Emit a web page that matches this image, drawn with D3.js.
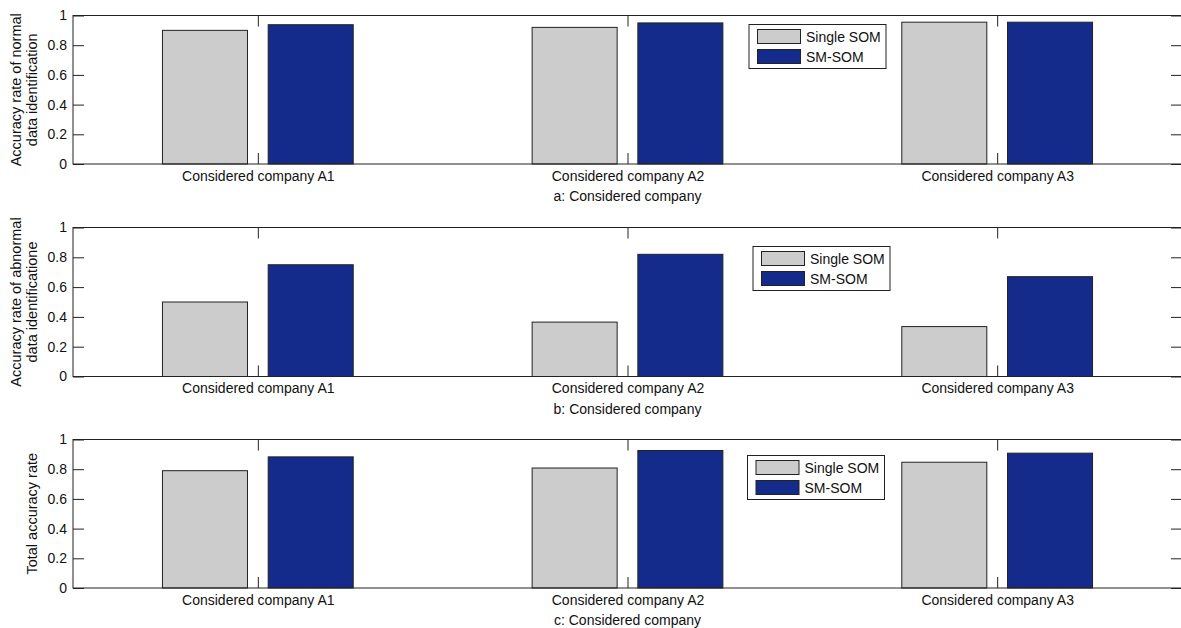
<html>
<script src='https://d3js.org/d3.v7.min.js'></script>
<style>
body {margin:0; background:white;}
text {font-family: "Liberation Sans", Arial, sans-serif; fill:#111;}
</style>
<body>
<svg id="chart" width=1181 height=628></svg>
<script>
// values
var categories = ["Considered company A1", "Considered company A2", "Considered company A3"];
var seriesNames = ["Single SOM", "SM-SOM"];
var singleNormal = [0.90, 0.92, 0.955];
var smNormal = [0.938, 0.95, 0.955];
var singleAbnormal = [0.50, 0.365, 0.335];
var smAbnormal = [0.75, 0.82, 0.67];
var singleTotal = [0.79, 0.808, 0.847];
var smTotal = [0.883, 0.926, 0.908];
var yTicks = [0, 0.2, 0.4, 0.6, 0.8, 1];
var yLabels = [["Accuracy rate of normal", "data identification"],
               ["Accuracy rate of abnormal", "data identificatione"],
               ["Total accuracy rate"]];
var xTitles = ["a: Considered company", "b: Considered company", "c: Considered company"];

var colors = ["#cccccc", "#152b8b"];

var panels = [
  {top: 15.5, bottom: 164, single: singleNormal, sm: smNormal, legend: [749, 24.5]},
  {top: 227.5, bottom: 376.5, single: singleAbnormal, sm: smAbnormal, legend: [753, 246.5]},
  {top: 439.5, bottom: 588, single: singleTotal, sm: smTotal, legend: [747.5, 455.5]}
];

var svg = d3.select("#chart");
var left = 73, right = 1182;
var x = d3.scaleLinear().domain([0.5, 3.5]).range([left, right]);
var barW = 0.23, offs = [-0.143, 0.143];

panels.forEach(function(p, pi) {
  var y = d3.scaleLinear().domain([0, 1]).range([p.bottom, p.top]);
  var g = svg.append("g");

  // bars
  [p.single, p.sm].forEach(function(vals, si) {
    g.selectAll(".bar" + si)
      .data(vals)
      .enter()
      .append("rect")
      .attr("x", function(d, i) { return x(i + 1 + offs[si] - barW / 2); })
      .attr("y", function(d) { return y(d); })
      .attr("width", x(barW) - x(0))
      .attr("height", function(d) { return y(0) - y(d); })
      .style("fill", colors[si])
      .style("stroke", "#222")
      .style("stroke-width", 1);
  });

  // box
  g.append("rect")
    .attr("x", left).attr("y", p.top)
    .attr("width", right - left).attr("height", p.bottom - p.top)
    .style("fill", "none").style("stroke", "#222");

  var yl = d3.axisLeft(y).tickValues(yTicks).tickFormat(d3.format("~g")).tickSizeInner(-11).tickSizeOuter(0).tickPadding(6);
  var ya = g.append("g").attr("transform", "translate(" + left + ",0)").call(yl);
  var yr = g.append("g").attr("transform", "translate(" + right + ",0)")
    .call(d3.axisRight(y).tickValues(yTicks).tickSizeInner(-11).tickSizeOuter(0).tickFormat(""));

  var xb = g.append("g").attr("transform", "translate(0," + p.bottom + ")")
    .call(d3.axisBottom(x).tickValues([1, 2, 3]).tickSizeInner(-11).tickSizeOuter(0).tickPadding(7)
      .tickFormat(function(d) { return categories[d - 1]; }));
  var xt = g.append("g").attr("transform", "translate(0," + p.top + ")")
    .call(d3.axisTop(x).tickValues([1, 2, 3]).tickSizeInner(-11).tickSizeOuter(0).tickFormat(""));

  [ya, yr, xb, xt].forEach(function(a) {
    a.select(".domain").remove();
    a.selectAll("line").style("stroke", "#222");
    a.selectAll("text").style("font-size", "14px").style("fill", "#111")
      .style("font-family", '"Liberation Sans", Arial, sans-serif');
  });

  // x title
  g.append("text")
    .attr("x", x(2)).attr("y", p.bottom + 37)
    .attr("text-anchor", "middle")
    .style("font-size", "14px")
    .text(xTitles[pi]);

  // y label
  var lines = yLabels[pi];
  var cy = (p.top + p.bottom) / 2;
  var xs = lines.length == 2 ? [16, 32] : [32];
  lines.forEach(function(t, li) {
    g.append("text")
      .attr("transform", "translate(" + (xs[li] + 5) + "," + cy + ") rotate(-90)")
      .attr("text-anchor", "middle")
      .style("font-size", "14.5px")
      .text(t);
  });

  // legend
  var lg = g.append("g").attr("transform", "translate(" + p.legend[0] + "," + p.legend[1] + ")");
  lg.append("rect").attr("width", 137).attr("height", 44)
    .style("fill", "white").style("stroke", "#222");
  seriesNames.forEach(function(n, i) {
    lg.append("rect")
      .attr("x", 8.5).attr("y", 5 + i * 20)
      .attr("width", 43).attr("height", 14)
      .style("fill", colors[i]).style("stroke", "#222");
    lg.append("text")
      .attr("x", 57).attr("y", 17 + i * 20)
      .style("font-size", "14px")
      .text(n);
  });
});
</script>
</body>
</html>
